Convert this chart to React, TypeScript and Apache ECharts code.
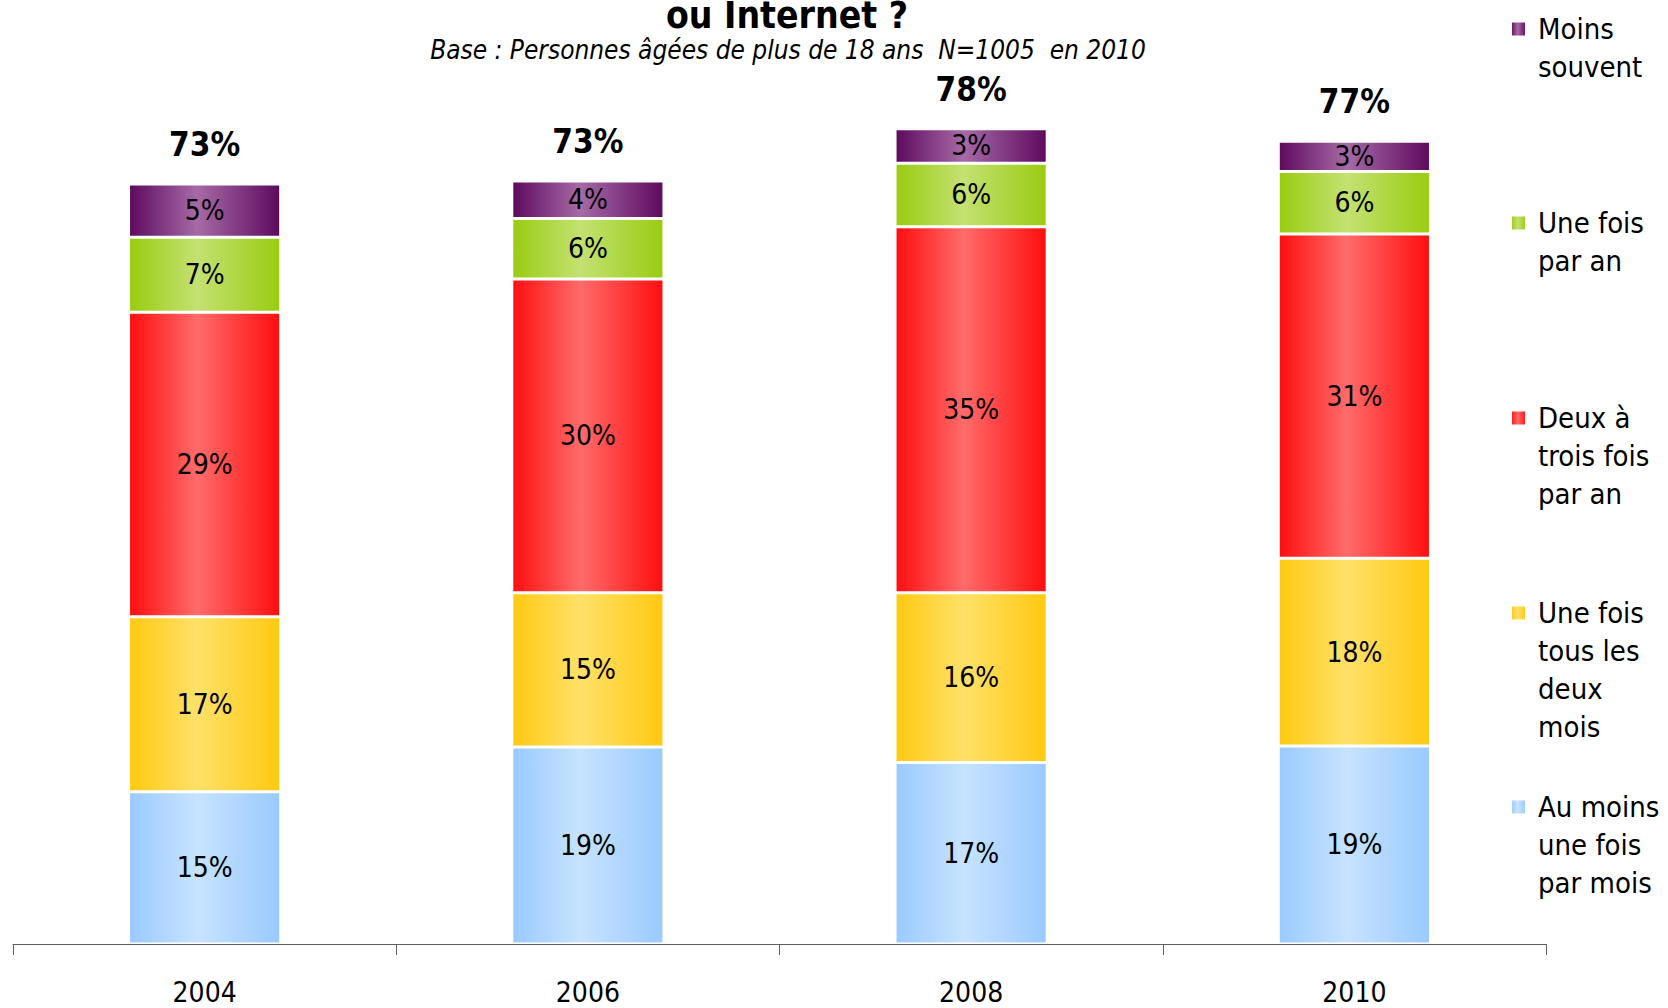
import React, { useEffect, useRef } from "react";
import * as echarts from "echarts";

const years = ["2004", "2006", "2008", "2010"];
const seriesNames = [
  "Au moins une fois par mois",
  "Une fois tous les deux mois",
  "Deux à trois fois par an",
  "Une fois par an",
  "Moins souvent",
];
const legendLabels = [
  "Au moins\nune fois\npar mois",
  "Une fois\ntous les\ndeux\nmois",
  "Deux à\ntrois fois\npar an",
  "Une fois\npar an",
  "Moins\nsouvent",
];
const auMoinsUneFoisParMois = [14.6, 18.9, 17.4, 19.0];
const uneFoisTousLesDeuxMois = [16.8, 14.8, 16.3, 18.0];
const deuxATroisFoisParAn = [29.2, 30.1, 35.1, 31.1];
const uneFoisParAn = [7.2, 5.8, 6.1, 6.0];
const moinsSouvent = [5.1, 3.6, 3.3, 2.9];
const titleLine = "ou Internet ?";
const subtitle = "Base : Personnes âgées de plus de 18 ans  N=1005  en 2010";

const seriesValues = [
  auMoinsUneFoisParMois,
  uneFoisTousLesDeuxMois,
  deuxATroisFoisParAn,
  uneFoisParAn,
  moinsSouvent,
];
const edgeColors = ["#99CAFF", "#FFC910", "#FF0E0E", "#99CC10", "#5E0A5E"];
const centerColors = ["#C7E3FF", "#FFE169", "#FF6B6B", "#C4E172", "#A66AA6"];
const legendCenters = [807, 613, 418, 223, 29];

const FONT = "'Liberation Sans Narrow', 'Arial Narrow', 'DejaVu Sans Condensed', sans-serif";
const LH = 38;

export default function App() {
  const ref = useRef<HTMLDivElement>(null);
  useEffect(() => {
    if (!ref.current) return;
    const chart = echarts.init(ref.current, null, { renderer: "svg" });
    const totals = years.map((_, i) =>
      seriesValues.reduce((s, arr) => s + arr[i], 0)
    );
    const grad = (i: number) =>
      new echarts.graphic.LinearGradient(0, 0, 1, 0, [
        { offset: 0, color: edgeColors[i] },
        { offset: 0.45, color: centerColors[i] },
        { offset: 1, color: edgeColors[i] },
      ]);
    const barSeries: any[] = seriesNames.map((name, i) => ({
      name,
      type: "bar",
      stack: "total",
      barWidth: "39.7%",
      data: seriesValues[i],
      itemStyle: { color: grad(i), borderColor: "#ffffff", borderWidth: 1.5 },
      label: {
        show: true,
        position: "inside",
        formatter: (p: any) => Math.round(p.value) + "%",
        color: "#000",
        fontSize: 28,
        fontFamily: FONT,
      },
    }));
    barSeries.push({
      name: "Total",
      type: "bar",
      barGap: "-100%",
      barWidth: "39.7%",
      data: totals,
      itemStyle: { color: "rgba(0,0,0,0)" },
      z: 1,
      silent: true,
      label: {
        show: true,
        position: "top",
        distance: 23,
        formatter: (p: any) => Math.round(p.value) + "%",
        color: "#000",
        fontSize: 33,
        fontWeight: "bold",
        fontFamily: FONT,
      },
    });
    const legends = seriesNames.map((name, i) => {
      const n = legendLabels[i].split("\n").length;
      return {
        show: true,
        orient: "vertical",
        left: 1510,
        top: legendCenters[i] - ((2 * n - 1) * LH) / 2,
        padding: 0,
        itemWidth: 15,
        itemHeight: 15,
        icon: "rect",
        selectedMode: false,
        data: [name],
        formatter: () => " \n".repeat(n - 1) + legendLabels[i],
        textStyle: {
          fontSize: 29,
          lineHeight: LH,
          color: "#000",
          fontFamily: FONT,
          padding: [0, 0, 0, 7],
        },
      };
    });
    chart.setOption({
      animation: false,
      backgroundColor: "#ffffff",
      legend: legends,
      grid: { left: 13, right: 122, top: 110, bottom: 64, containLabel: false },
      xAxis: {
        type: "category",
        data: years,
        axisLine: { lineStyle: { color: "#5f5f5f", width: 1.2 } },
        axisTick: { show: true, length: 11, lineStyle: { color: "#5f5f5f" } },
        axisLabel: { color: "#000", fontSize: 28, fontFamily: FONT, margin: 34 },
      },
      yAxis: { type: "value", min: 0, max: 80, show: false, splitLine: { show: false } },
      graphic: [
        {
          type: "text",
          x: 787,
          y: 34,
          style: {
            text: titleLine,
            fontSize: 37,
            fontWeight: "bold",
            fontFamily: FONT,
            fill: "#000",
            align: "center",
            verticalAlign: "bottom",
          },
        },
        {
          type: "text",
          x: 788,
          y: 63,
          style: {
            text: subtitle,
            fontSize: 26,
            fontStyle: "italic",
            fontFamily: FONT,
            fill: "#000",
            align: "center",
            verticalAlign: "bottom",
          },
        },
      ],
      series: barSeries,
    });
    return () => chart.dispose();
  }, []);
  return (
    <div
      ref={ref}
      style={{ position: "absolute", left: 0, top: 0, width: 1668, height: 1008 }}
    />
  );
}
